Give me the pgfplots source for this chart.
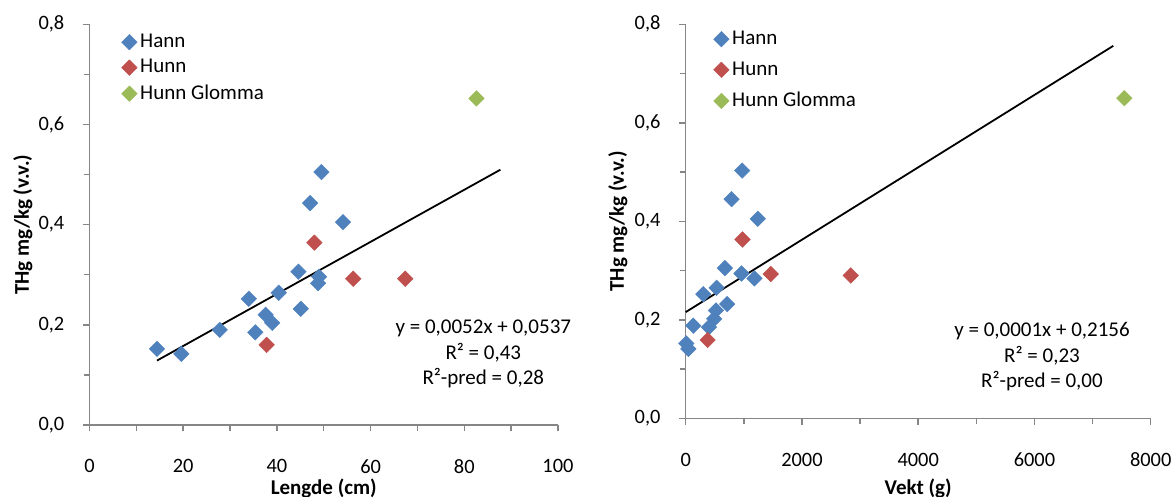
\documentclass[border=0pt]{standalone}
\usepackage{fontspec}
\setmainfont{Carlito}
\usepackage{pgfplots}
\pgfplotsset{compat=1.18}
\definecolor{exblue}{HTML}{4F81BD}
\definecolor{exred}{HTML}{C0504D}
\definecolor{exgreen}{HTML}{9BBB59}
\definecolor{axisgray}{HTML}{868686}

\pgfplotstableread{
x y
14.4 0.152
19.6 0.142
27.8 0.190
34.0 0.252
35.4 0.185
37.6 0.220
39.0 0.204
40.4 0.264
44.6 0.306
45.1 0.232
47.1 0.443
48.8 0.283
49.0 0.296
49.5 0.505
54.1 0.405
}\LHann
\pgfplotstableread{
x y
37.8 0.160
48.0 0.364
56.3 0.292
67.4 0.292
}\LHunn
\pgfplotstableread{
x y
82.6 0.652
}\LGlomma
\pgfplotstableread{
x y
10 0.152
46 0.141
131 0.188
303 0.252
400 0.185
491 0.202
520 0.219
531 0.265
674 0.305
714 0.232
789 0.445
960 0.294
971 0.503
1183 0.284
1240 0.405
}\RHann
\pgfplotstableread{
x y
377 0.159
977 0.363
1463 0.293
2840 0.290
}\RHunn
\pgfplotstableread{
x y
7546 0.650
}\RGlomma

\pgfplotsset{
  exstyle/.style={
    scale only axis, anchor=south west,
    axis lines=left, axis line style={-, line width=0.75pt, draw=axisgray},
    tick align=outside, major tick length=3.2pt, minor tick length=2.8pt,
    tick style={draw=axisgray, line width=0.75pt},
    ymin=0, ymax=0.8, ytick={0,0.2,0.4,0.6,0.8}, minor y tick num=1,
    minor x tick num=1,
    clip=false,
    yticklabel={\pgfmathprintnumber[assume math mode=true,use comma,fixed,fixed zerofill,precision=1]{\tick}},
    xticklabel={\pgfmathprintnumber[assume math mode=true,fixed,precision=0,1000 sep={}]{\tick}},
    tick label style={font=\fontsize{10.2}{12}\selectfont},
    yticklabel style={inner sep=0pt, xshift=-9.2pt},
    xticklabel style={inner sep=0pt, yshift=-13.9pt},
    legend cell align=left,
    legend image code/.code={\path[draw=none,fill=none] (-3.9pt,-3.9pt) rectangle (3.9pt,3.9pt); \draw[##1] plot coordinates {(0pt,0pt)};},
  },
  exmark/.style={only marks, mark=square*, mark size=2.75pt, color=#1, mark options={rotate=45, fill=#1, draw=#1, line width=0.2pt}},
}

\begin{document}
\begin{tikzpicture}[font=\fontsize{10.5}{12.6}\selectfont]
\useasboundingbox (0,0) rectangle (587pt,248.5pt);
\begin{axis}[exstyle,
  at={(44.75pt,36pt)}, width=234.25pt, height=200.35pt,
  xmin=0, xmax=100, xtick={0,20,40,60,80,100},
  xlabel={\bfseries Lengde (cm)},
  xlabel style={at={(axis description cs:0.5,-0.158)}, anchor=center},
  ylabel={\bfseries THg mg/kg (v.v.)},
  ylabel style={at={(axis description cs:-0.1420,0.5)}, anchor=center},
  legend style={at={(axis description cs:0.0677,0.9770)}, anchor=north west, draw=none, fill=none, inner sep=0pt, row sep=4.5pt, column sep=1.5pt, nodes={inner sep=0pt}},
]
\addplot[exmark=exblue] table {\LHann};
\addlegendentry{Hann}
\addplot[exmark=exred] table {\LHunn};
\addlegendentry{Hunn}
\addplot[exmark=exgreen] table {\LGlomma};
\addlegendentry{Hunn Glomma}
\addplot[black, line width=0.9pt, forget plot] coordinates {(14.4,0.1286) (87.7,0.5097)};
\end{axis}
\begin{axis}[exstyle,
  at={(342.85pt,39.35pt)}, width=232.5pt, height=197pt,
  xmin=0, xmax=8000, xtick={0,2000,4000,6000,8000},
  xlabel={\bfseries Vekt (g)},
  xlabel style={at={(axis description cs:0.5,-0.178)}, anchor=center},
  ylabel={\bfseries THg mg/kg (v.v.)},
  ylabel style={at={(axis description cs:-0.1460,0.5)}, anchor=center},
  legend style={at={(axis description cs:0.0592,0.9840)}, anchor=north west, draw=none, fill=none, inner sep=0pt, row sep=7.05pt, column sep=1.5pt, nodes={inner sep=0pt}},
]
\addplot[exmark=exblue] table {\RHann};
\addlegendentry{Hann}
\addplot[exmark=exred] table {\RHunn};
\addlegendentry{Hunn}
\addplot[exmark=exgreen] table {\RGlomma};
\addlegendentry{Hunn Glomma}
\addplot[black, line width=0.9pt, forget plot] coordinates {(0,0.2156) (7357,0.7563)};
\end{axis}
\node[align=center, font=\fontsize{10.5}{12.75}\selectfont] at (241.65pt,71.5pt) {y = 0,0052x + 0,0537\\R² = 0,43\\R²-pred = 0,28};
\node[align=center, font=\fontsize{10.5}{12.75}\selectfont] at (521pt,70.15pt) {y = 0,0001x + 0,2156\\R² = 0,23\\R²-pred = 0,00};
\end{tikzpicture}
\end{document}
